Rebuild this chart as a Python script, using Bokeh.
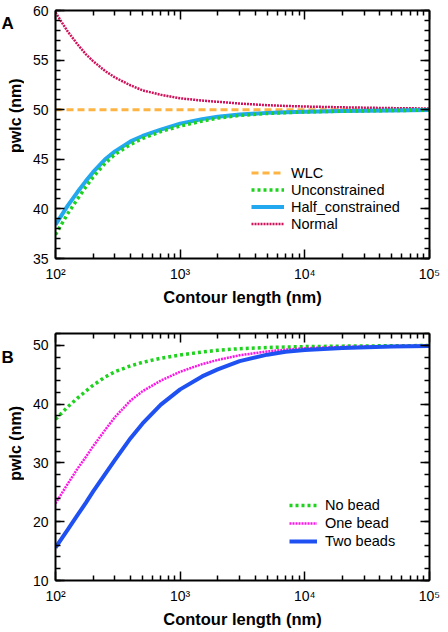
import math
from bokeh.plotting import figure
from bokeh.models import LogAxis, LinearAxis, FixedTicker, Legend, LegendItem, Label
from bokeh.layouts import column, row
from bokeh.embed import file_html
from bokeh.resources import INLINE

# ---------------- data ----------------
contour_length = [100, 125, 150, 175, 200, 250, 300, 400, 500, 700, 1000, 1500,
                  2000, 3000, 5000, 7000, 10000, 20000, 50000, 100000]

# panel A
wlc = [50.0] * len(contour_length)
unconstrained = [37.4, 39.5, 41.0, 42.2, 43.2, 44.6, 45.5, 46.5, 47.1, 47.8, 48.35, 48.85,
                 49.15, 49.42, 49.62, 49.7, 49.77, 49.85, 49.92, 49.95]
half_constrained = [38.4, 40.3, 41.7, 42.8, 43.7, 45.0, 45.8, 46.8, 47.35, 48.0, 48.6, 49.05,
                    49.3, 49.52, 49.68, 49.75, 49.8, 49.87, 49.93, 49.96]
normal = [59.8, 57.9, 56.6, 55.6, 54.9, 53.9, 53.25, 52.45, 51.95, 51.5, 51.15, 50.92,
          50.8, 50.62, 50.45, 50.38, 50.32, 50.24, 50.16, 50.12]

# panel B
no_bead = [37.4, 39.5, 41.0, 42.2, 43.2, 44.6, 45.5, 46.5, 47.1, 47.8, 48.35, 48.85,
           49.15, 49.42, 49.62, 49.7, 49.77, 49.85, 49.92, 49.95]
one_bead = [23.1, 26.4, 29.0, 31.0, 32.8, 35.6, 37.8, 40.6, 42.2, 44.0, 45.5, 46.8,
            47.5, 48.3, 48.95, 49.25, 49.5, 49.72, 49.85, 49.9]
two_beads = [15.6, 18.6, 21.1, 23.2, 25.1, 28.1, 30.5, 34.2, 36.7, 39.9, 42.5, 44.7,
             45.9, 47.3, 48.4, 48.9, 49.2, 49.55, 49.78, 49.86]

x_major = [100, 1000, 10000, 100000]
x_minor = [m * 10 ** e for e in range(2, 5) for m in range(2, 10)]
x_tick_labels = {100: "10²", 1000: "10³", 10000: "10⁴", 100000: "10⁵"}

a_y_major = [35, 40, 45, 50, 55, 60]
a_y_minor = list(range(35, 61))
b_y_major = [10, 20, 30, 40, 50]
b_y_minor = list(range(10, 53, 2))

FONT = "Liberation Sans"
SIDE_W = 24
MAIN_W = 448 - SIDE_W


def style_axis(ax, blank_ticks):
    ax.axis_line_width = 2
    ax.axis_line_color = "black"
    ax.major_tick_line_width = 1.5
    ax.minor_tick_line_width = 1.5
    ax.major_tick_line_color = "black"
    ax.minor_tick_line_color = "black"
    ax.major_tick_in = 9
    ax.major_tick_out = 0
    ax.minor_tick_in = 5
    ax.minor_tick_out = 0
    ax.major_label_text_font = FONT
    ax.major_label_text_font_size = "14px"
    ax.major_label_text_color = "black"
    ax.major_label_standoff = 7
    if blank_ticks is not None:
        ax.major_label_overrides = {t: "" for t in blank_ticks}
        ax.major_label_standoff = 0


def make_panel(y_range, y_major, y_minor, height, top_border, bottom_border):
    p = figure(width=MAIN_W, height=height, x_axis_type="log", x_range=(100, 1e5),
               y_range=y_range, output_backend="svg", toolbar_location=None)
    p.min_border_left = 55 - SIDE_W
    p.min_border_right = 19
    p.min_border_top = top_border
    p.min_border_bottom = bottom_border
    p.grid.visible = False
    p.outline_line_color = None

    xt = FixedTicker(ticks=x_major, minor_ticks=x_minor)
    yt = FixedTicker(ticks=y_major, minor_ticks=y_minor)
    bottom = p.below[0]
    left = p.left[0]
    bottom.ticker = xt
    left.ticker = yt
    top = LogAxis(ticker=xt)
    right = LinearAxis(ticker=yt)
    p.add_layout(top, "above")
    p.add_layout(right, "right")
    style_axis(bottom, None)
    style_axis(left, None)
    style_axis(top, x_major)
    style_axis(right, y_major)
    bottom.major_label_overrides = x_tick_labels

    bottom.axis_label = "Contour length (nm)"
    bottom.axis_label_text_font = FONT
    bottom.axis_label_text_font_style = "bold"
    bottom.axis_label_text_font_size = "16.5px"
    bottom.axis_label_text_color = "black"
    bottom.axis_label_standoff = 3
    return p


def side_label(s, x, y, text, size, style, angle=0.0, align="left"):
    s.add_layout(Label(x=x, y=y, x_units="data", y_units="data", text=text,
                       angle=angle, text_font=FONT, text_font_style=style,
                       text_font_size=size, text_color="black",
                       text_align=align, text_baseline="alphabetic"))


def make_side(height, mid, letter, letter_baseline_from_bottom):
    """Narrow strip left of a panel holding the panel letter and the y title."""
    s = figure(width=SIDE_W, height=height, x_range=(0, SIDE_W), y_range=(0, height),
               x_axis_location=None, y_axis_location=None,
               output_backend="svg", toolbar_location=None, min_border=0)
    s.grid.visible = False
    s.outline_line_color = None
    side_label(s, 1, letter_baseline_from_bottom, letter, "17px", "bold")
    side_label(s, 15, mid, "pwlc (nm)", "16px", "bold", math.pi / 2, "center")
    return s


# ---------------- panel A ----------------
H1 = 316
pa = make_panel((35, 60), a_y_major, a_y_minor, H1, 10, 58)
r_wlc = pa.line(contour_length, wlc, line_color="#FDB443", line_width=3, line_dash="7 4")
r_norm = pa.line(contour_length, normal, line_color="#D0105A", line_width=2.5, line_dash="2 1")
r_half = pa.line(contour_length, half_constrained, line_color="#22A8EE", line_width=4)
r_unc = pa.line(contour_length, unconstrained, line_color="#1ED21E", line_width=3.5, line_dash="3 3")
leg_a = Legend(items=[LegendItem(label="WLC", renderers=[r_wlc]),
                      LegendItem(label="Unconstrained", renderers=[r_unc]),
                      LegendItem(label="Half_constrained", renderers=[r_half]),
                      LegendItem(label="Normal", renderers=[r_norm])],
               location=(196, 26), border_line_color=None, background_fill_alpha=0,
               padding=0, margin=0, spacing=0, glyph_width=33, glyph_height=17,
               label_height=17, label_standoff=7, label_text_font=FONT,
               label_text_font_size="14.5px", label_text_color="black")
pa.add_layout(leg_a)
sa = make_side(H1, H1 - (10 + 248 / 2), "A", H1 - 17)

# ---------------- panel B ----------------
H2 = 316
pb = make_panel((10, 52), b_y_major, b_y_minor, H2, 17, 52)
r_nb = pb.line(contour_length, no_bead, line_color="#1ED21E", line_width=3.5, line_dash="3 3")
r_ob = pb.line(contour_length, one_bead, line_color="#FF14E6", line_width=2.5, line_dash="2 1")
r_tb = pb.line(contour_length, two_beads, line_color="#1F50F2", line_width=4)
leg_b = Legend(items=[LegendItem(label="No bead", renderers=[r_nb]),
                      LegendItem(label="One bead", renderers=[r_ob]),
                      LegendItem(label="Two beads", renderers=[r_tb])],
               location=(234, 30), border_line_color=None, background_fill_alpha=0,
               padding=0, margin=0, spacing=0, glyph_width=28, glyph_height=18,
               label_height=18, label_standoff=8, label_text_font=FONT,
               label_text_font_size="14.5px", label_text_color="black")
pb.add_layout(leg_b)
sb = make_side(H2, H2 - (17 + 247 / 2), "B", H2 - 31)

layout = column(row(sa, pa, spacing=0), row(sb, pb, spacing=0), spacing=0)
open("out.html", "w").write(file_html(layout, INLINE))
